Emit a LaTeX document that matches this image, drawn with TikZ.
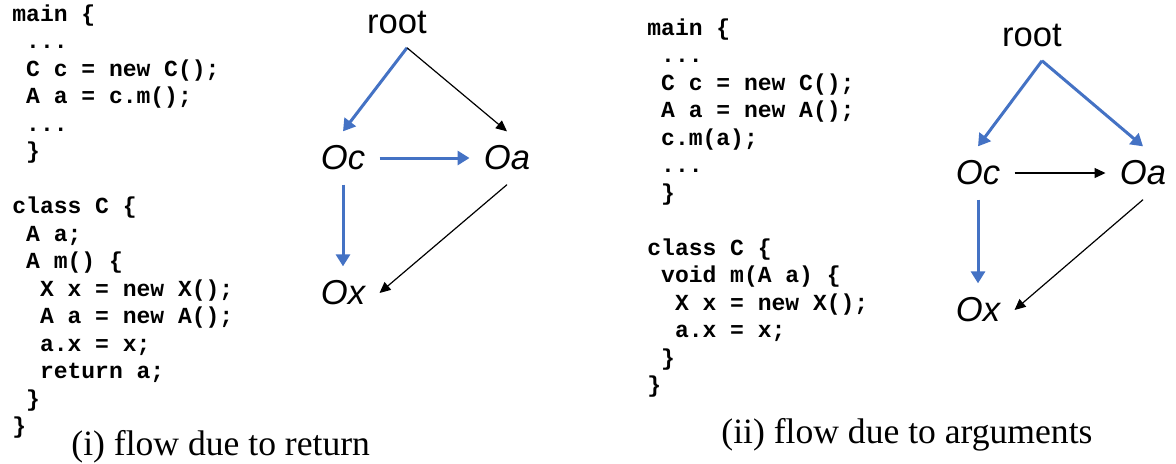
\documentclass[tikz,border=0pt]{standalone}
\usepackage{fontspec}
\setmainfont{Liberation Serif}
\setsansfont{Liberation Sans}
\setmonofont{Liberation Mono}
\usepackage{xcolor}
\usepackage{tikz}
\usetikzlibrary{arrows.meta}

\definecolor{flowblue}{HTML}{4472C4}
\newcommand{\indt}{\hspace*{0.6em}}

\begin{document}
\begin{tikzpicture}[x=0.5pt,y=-0.5pt,
    codeblock/.style={anchor=base west,inner sep=0pt,align=left,
      font=\ttfamily\bfseries\fontsize{11.5pt}{13.75pt}\selectfont},
    obj/.style={inner sep=7pt,font=\sffamily\fontsize{17.3pt}{20pt}\selectfont},
    caption/.style={anchor=base west,inner sep=0pt,font=\fontsize{17.8pt}{21pt}\selectfont},
    bluearr/.style={flowblue,line width=1.5pt,-{Triangle[length=6pt,width=7pt]}},
    blackarr/.style={black,line width=0.6pt,-{Triangle[length=5.5pt,width=5pt]}}]
  \useasboundingbox (0,0) rectangle (1176,463);
  % (i) return -- codeblock is placed by its last baseline
  \node[codeblock] (codeL) at (12,433.5) {main \{\\
    \indt...\\
    \indt C c = new C();\\
    \indt A a = c.m();\\
    \indt...\\
    \indt\}\\
    \mbox{}\\
    class C \{\\
    \indt A a;\\
    \indt A m() \{\\
    \indt\indt X x = new X();\\
    \indt\indt A a = new A();\\
    \indt\indt a.x = x;\\
    \indt\indt return a;\\
    \indt\}\\
    \}};
  \node[obj] (rootL) at (397,22) {root};
  \node[obj] (OcL) at (343,158) {\itshape Oc};
  \node[obj] (OaL) at (507,158) {\itshape Oa};
  \node[obj] (OxL) at (343,293) {\itshape Ox};
  \coordinate (forkL) at ([xshift=5pt]rootL.south);
  \draw[bluearr] (forkL) -- (OcL.north);
  \draw[blackarr] (forkL) -- (OaL.north);
  \draw[bluearr] (OcL.east) -- (OaL.west);
  \draw[bluearr] (OcL.south) -- (OxL.north);
  \draw[blackarr] (OaL.south) -- (OxL.east);
  \node[caption] (capL) at (71,455) {(i) flow due to return};
  % (ii) arguments
  \node[codeblock] (codeR) at (647,392.5) {main \{\\
    \indt...\\
    \indt C c = new C();\\
    \indt A a = new A();\\
    \indt c.m(a);\\
    \indt...\\
    \indt\}\\
    \mbox{}\\
    class C \{\\
    \indt void m(A a) \{\\
    \indt\indt X x = new X();\\
    \indt\indt a.x = x;\\
    \indt\}\\
    \}};
  \node[obj] (rootR) at (1032,35) {root};
  \node[obj] (OcR) at (978,173) {\itshape Oc};
  \node[obj] (OaR) at (1143,173) {\itshape Oa};
  \node[obj] (OxR) at (978,310) {\itshape Ox};
  \coordinate (forkR) at ([xshift=5pt]rootR.south);
  \draw[bluearr] (forkR) -- (OcR.north);
  \draw[bluearr] (forkR) -- (OaR.north);
  \draw[blackarr] (OcR.east) -- (OaR.west);
  \draw[bluearr] (OcR.south) -- (OxR.north);
  \draw[blackarr] (OaR.south) -- (OxR.east);
  \node[caption] (capR) at (721,443) {(ii) flow due to arguments};
\end{tikzpicture}
\end{document}
